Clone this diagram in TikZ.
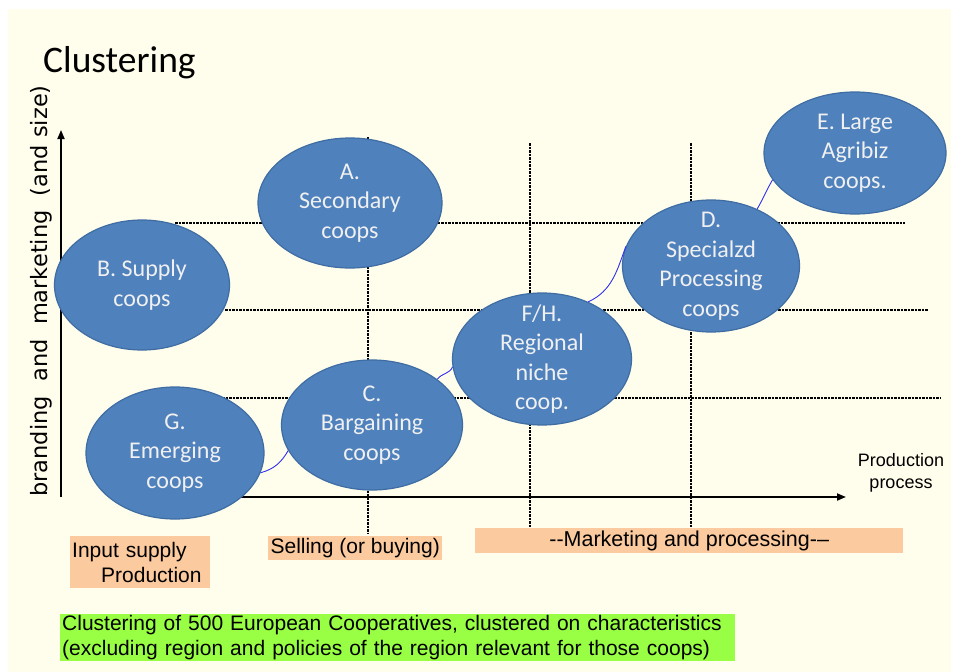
\documentclass[tikz,border=0pt]{standalone}
\usepackage{fontspec}
\setmainfont{Liberation Sans}
\newfontfamily\calfont{Carlito}
\newfontfamily\vfont{DejaVu Sans}
\usetikzlibrary{shapes.geometric,arrows.meta}
\definecolor{cream}{HTML}{FFFEEC}
\definecolor{coopblue}{HTML}{4F81BD}
\definecolor{coopedge}{HTML}{3F6DA3}
\definecolor{peach}{HTML}{FBCA9E}
\definecolor{limegreen}{HTML}{99FF44}
\definecolor{linkblue}{HTML}{3030F0}
\begin{document}
\begin{tikzpicture}[x=1pt,y=-1pt,
  coop/.style={ellipse, draw=coopedge, line width=1.2pt, fill=coopblue, inner sep=0pt},
  cooptext/.style={text=white!94!black, font=\calfont\fontsize{24}{29.5}\selectfont, align=center},
  tag/.style={fill=peach, inner sep=2pt, font=\fontsize{21}{25}\selectfont, anchor=north west},
  thin grid/.style={line width=1.6pt, dash pattern=on 2.5pt off 1pt},
  thick grid/.style={line width=2.6pt, dash pattern=on 2.5pt off 1pt},
  axis/.style={line width=1.8pt, -{Triangle[length=9pt,width=7pt]}},
  link/.style={linkblue, line width=0.9pt}]

  % background
  \fill[white] (0,0) rectangle (956,672);
  \fill[cream] (8,9) rectangle (951,672);

  \node[anchor=base west, inner sep=0pt, font=\calfont\fontsize{37.5}{40}\selectfont] (title) at (43,72) {Clustering};
  \node[rotate=90, font=\vfont\fontsize{22.5}{26}\selectfont] (ylabel) at (41,291) {branding\ \ and\ \ marketing\ \ (and size)};

  % grid
  \draw[thin grid] (175,223) -- (905,223);
  \draw[thick grid] (225,310) -- (928,310);
  \draw[thick grid] (215,398) -- (940,398);
  \draw[thick grid] (368,137) -- (368,533);
  \draw[thin grid] (530,143) -- (530,527);
  \draw[thick grid] (691,143) -- (691,527);

  % axes
  \coordinate (origin) at (61,497);
  \coordinate (ytip) at (61,130);
  \coordinate (xfoot) at (200,497);
  \coordinate (xtip) at (846,497);
  \draw[axis] (origin) -- (ytip);
  \draw[axis] (xfoot) -- (xtip);

  % coops
  \node[coop, minimum width=184, minimum height=130] (A) at (350,203) {};
  \node[coop, minimum width=175, minimum height=130] (B) at (142,285) {};
  \node[coop, minimum width=181, minimum height=130] (C) at (372,425) {};
  \node[coop, minimum width=178, minimum height=132] (G) at (175,453) {};
  \node[coop, minimum width=179, minimum height=132] (FH) at (542,359) {};
  \node[coop, minimum width=177, minimum height=132] (D) at (711,266) {};
  \node[coop, minimum width=182, minimum height=122] (E) at (855,153) {};

  \node[cooptext] (Atxt) at (A) {A.\\Secondary\\coops};
  \node[cooptext] (Btxt) at (B) {B.~Supply\\coops};
  \node[cooptext] (Ctxt) at (C) {C.\\Bargaining\\coops};
  \node[cooptext] (Gtxt) at (G) {G.\\Emerging\\coops};
  \node[cooptext] (FHtxt) at (FH) {F/H.\\Regional\\niche\\coop.};
  \node[cooptext] (Dtxt) at (D) {D.\\Specialzd\\Processing\\coops};
  \node[cooptext] (Etxt) at (E) {E. Large\\Agribiz\\coops.};

  % links
  \draw[link] (G.-13) to[out=15,in=-120] (C.197);
  \draw[link] (C.35) to[out=55,in=-110] (FH.185);
  \draw[link] (FH.51) to[out=25,in=-110] (D.167);
  \draw[link] (D.51) to[out=60,in=-120] (E.198);

  % stages
  \node[tag, text width=136pt, minimum height=52pt, align=left] (input) at (70,536) {Input supply\\\hspace*{29pt}Production};
  \node[tag, minimum width=174pt, minimum height=24pt, inner sep=1pt] (selling) at (268,536) {Selling (or buying)};
  \node[tag, minimum width=428pt, minimum height=25pt, inner sep=1pt, font=\fontsize{21.5}{25}\selectfont] (marketing) at (475,528) {-{}-Marketing and processing-–};
  \node[align=center, font=\fontsize{18}{22}\selectfont] (process) at (901,473) {Production\\process};

  \node[fill=limegreen, anchor=north west, text width=671pt, inner xsep=2pt, inner ysep=1pt, align=left, font=\fontsize{21}{25.5}\selectfont] (caption) at (60,614) {\mbox{Clustering of 500 European Cooperatives, clustered on characteristics}\\\mbox{(excluding region and policies of the region relevant for those coops)}};
\end{tikzpicture}
\end{document}
